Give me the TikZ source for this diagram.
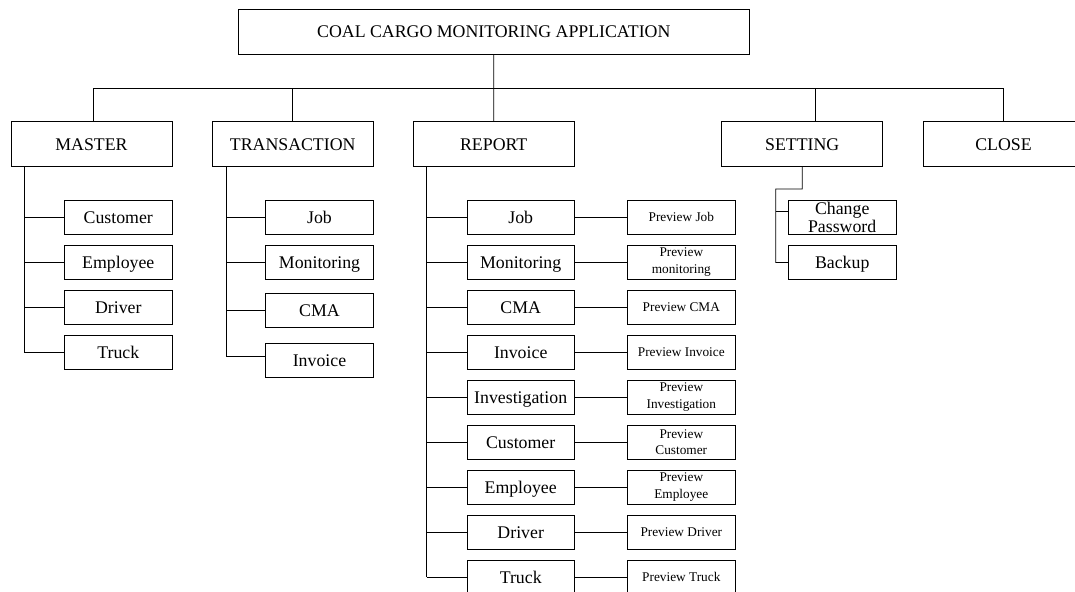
\documentclass[tikz,border=0pt]{standalone}
\usepackage{fontspec}
\setmainfont{Liberation Serif}
\begin{document}
\begin{tikzpicture}[x=1pt,y=-1pt,
  box/.style={draw, line width=0.8pt, inner sep=0pt, align=center,
    font=\fontsize{17.8}{17.3}\selectfont},
  one/.style={text height=11.8pt, text depth=0pt},
  ones/.style={text height=8.8pt, text depth=0pt},
  topbox/.style={box, one, minimum width=161, minimum height=45},
  sub/.style={box, minimum width=107.6, minimum height=33.5},
  prev/.style={box, minimum width=107.3, minimum height=33.5,
    font=\fontsize{13.3}{16.7}\selectfont},
  conn/.style={line width=0.8pt}]
\useasboundingbox (0,0) rectangle (1075,591);
% top
\node[box, one, minimum width=510.4, minimum height=45] (app) at (493.8,31.5) {COAL CARGO MONITORING APPLICATION};
\node[topbox] (master) at (91.5,144.2) {MASTER};
\node[topbox] (trans) at (292.7,144.2) {TRANSACTION};
\node[topbox] (report) at (493.7,144.2) {REPORT};
\node[topbox] (setting) at (802.2,144.2) {SETTING};
\node[topbox] (close) at (1003.5,144.2) {CLOSE};
% bus
\coordinate (busM) at (93.7,88.3);
\coordinate (busT) at (292.7,88.3);
\coordinate (busS) at (815.3,88.3);
\coordinate (busC) at (1003.3,88.3);
\draw[conn] (app.south) -- (report.north);
\draw[conn] (busM) -- (busC);
\draw[conn] (busM) -- (busM |- master.north);
\draw[conn] (busT) -- (busT |- trans.north);
\draw[conn] (busS) -- (busS |- setting.north);
\draw[conn] (busC) -- (busC |- close.north);
% master children
\node[sub, one] (m1) at (118.3,217.3) {Customer};
\node[sub, one] (m2) at (118.3,262.4) {Employee};
\node[sub, one] (m3) at (118.3,307.5) {Driver};
\node[sub, one] (m4) at (118.3,352.5) {Truck};
\coordinate (mx) at (24.3,166.7);
\draw[conn] (mx) |- (m4.west);
\foreach \n in {m1,m2,m3} \draw[conn] (mx |- \n.west) -- (\n.west);
% transaction children
\node[sub, one] (t1) at (319.5,217.3) {Job};
\node[sub, one] (t2) at (319.5,262.4) {Monitoring};
\node[sub, one] (t3) at (319.5,310.2) {CMA};
\node[sub, one] (t4) at (319.5,360.5) {Invoice};
\coordinate (tx) at (226,166.7);
\draw[conn] (tx) |- ([yshift=3.8pt]t4.west);
\foreach \n in {t1,t2,t3} \draw[conn] (tx |- \n.west) -- (\n.west);
% report children
\coordinate (rx) at (426.7,166.7);
\foreach \i/\a in {0/Job,1/Monitoring,2/CMA,3/Invoice,4/Investigation,
  5/Customer,6/Employee,7/Driver,8/Truck} {
  \node[sub, one, minimum width=107.3] (r\i) at (520.7,217.3+45*\i) {\a};
  \draw[conn] (rx |- r\i.west) -- (r\i.west);
}
\foreach \i/\b in {0/Preview Job,2/Preview CMA,3/Preview Invoice,
  7/Preview Driver,8/Preview Truck} {
  \node[prev, ones] (p\i) at (681.3,217.3+45*\i) {\b};
}
\foreach \i/\b in {1/monitoring,4/Investigation,5/Customer,6/Employee} {
  \node[prev] (p\i) at (681.3,217.3+45*\i) {Preview\\\b};
}
\foreach \i in {0,...,8} \draw[conn] (r\i.east) -- (p\i.west);
\draw[conn] (rx) -- (rx |- r8.west);
% setting children
\node[sub] (s1) at (842.2,217.3) {Change\\Password};
\node[sub, one] (s2) at (842.2,262.4) {Backup};
\coordinate (sbend) at (802.3,189);
\coordinate (sx) at (775.7,189);
\draw[conn] (setting.south) -- (sbend) -- (sx) |- (s2.west);
\draw[conn] (sx |- 0,211.7) -- ([yshift=5.6pt]s1.west);
\end{tikzpicture}
\end{document}
